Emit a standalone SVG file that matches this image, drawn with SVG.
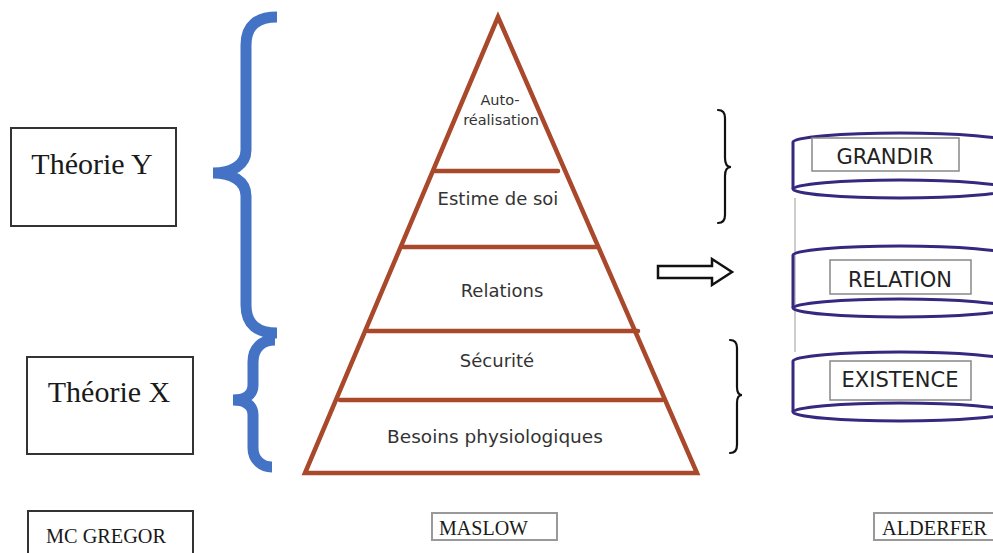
<svg xmlns="http://www.w3.org/2000/svg" width="993" height="553" viewBox="0 0 993 553">
  <style>
    .theory { fill: #fff; stroke: #333; stroke-width: 2; }
    .serif { font-family: "Liberation Serif", "Times New Roman", serif; fill: #1a1a1a; }
    .tag { fill: #fff; stroke: #999; stroke-width: 2; }
    .level { stroke: #A9482A; stroke-width: 4.5; fill: none; stroke-linecap: round; }
    .ptext { font-family: "DejaVu Sans", Verdana, sans-serif; fill: #333; text-anchor: middle; }
    .cyl { fill: none; stroke: #35287F; stroke-width: 3; }
    .clabel { fill: #fff; stroke: #888; stroke-width: 1.5; }
    .ctext { font-family: "DejaVu Sans", Verdana, sans-serif; font-size: 21px; fill: #222; text-anchor: middle; }
    .bluebrace { fill: none; stroke: #4472C4; stroke-width: 11; }
    .blackbrace { fill: none; stroke: #111; stroke-width: 2.2; stroke-linecap: round; }
  </style>

  <rect width="993" height="553" fill="#fff"/>

  <!-- McGregor theories -->
  <g id="theorie-y">
    <rect class="theory" x="11" y="128" width="165" height="98"/>
    <text class="serif" x="92" y="174" font-size="30" text-anchor="middle">Théorie Y</text>
  </g>
  <g id="theorie-x">
    <rect class="theory" x="27" y="357" width="166" height="97"/>
    <text class="serif" x="109" y="402" font-size="30" text-anchor="middle">Théorie X</text>
  </g>
  <g id="mc-gregor">
    <rect class="theory" x="28" y="511" width="165" height="50"/>
    <text class="serif" x="46" y="543" font-size="22" textLength="120" lengthAdjust="spacingAndGlyphs">MC GREGOR</text>
  </g>

  <!-- Braces grouping the pyramid levels -->
  <g id="braces">
    <path class="bluebrace" d="M277,17 C258,17 246,25 246,45 L246,150 C246,165 232,173 213,173 C232,173 246,181 246,196 L246,305 C246,325 258,333 277,333"/>
    <path class="bluebrace" d="M275,340 C262,340 253,348 253,362 L253,385 C253,395 245,400 233,400 C245,400 253,405 253,415 L253,448 C253,460 262,467 272,467"/>
    <path class="blackbrace" d="M718,110 C723,110 725,113 725,118 L725,158 C725,164 727,167 731,167 C727,167 725,170 725,176 L725,215 C725,220 723,223 718,223"/>
    <path class="blackbrace" d="M730,340 C735,340 737,343 737,348 L737,387 C737,392 739,395 742,395 C739,395 737,398 737,403 L737,445 C737,450 735,453 730,453"/>
  </g>

  <!-- Maslow pyramid -->
  <g id="pyramide">
    <polygon class="level" stroke-linejoin="miter" points="498,17 305,473 697,473"/>
    <line class="level" x1="435" y1="171" x2="558" y2="171"/>
    <line class="level" x1="403" y1="247" x2="597" y2="247"/>
    <line class="level" x1="368" y1="331" x2="638" y2="331"/>
    <line class="level" x1="340" y1="400" x2="662" y2="400"/>
    <text class="ptext" x="500" y="105" font-size="14.5">Auto-</text>
    <text class="ptext" x="501" y="125" font-size="14.5">réalisation</text>
    <text class="ptext" x="498" y="205" font-size="18">Estime de soi</text>
    <text class="ptext" x="502" y="297" font-size="18">Relations</text>
    <text class="ptext" x="497" y="367" font-size="18">Sécurité</text>
    <text class="ptext" x="495" y="443" font-size="18.5">Besoins physiologiques</text>
  </g>
  <g id="maslow">
    <rect class="tag" x="432" y="513" width="125" height="27"/>
    <text class="serif" x="439" y="535" font-size="20" textLength="89" lengthAdjust="spacingAndGlyphs">MASLOW</text>
  </g>

  <!-- Connectors -->
  <g id="connectors">
    <polygon points="658,266 712,266 712,259 732,272 712,285 712,278 658,278" fill="#fff" stroke="#111" stroke-width="2.5" stroke-linejoin="miter"/>
    <line x1="795" y1="198" x2="795" y2="352" stroke="#999" stroke-width="1"/>
  </g>

  <!-- Alderfer ERG cylinders -->
  <g id="grandir">
    <path class="cyl" d="M793,189 L793,142 A107,9 0 0 1 1007,142"/>
    <ellipse class="cyl" cx="900" cy="189" rx="107" ry="9"/>
    <rect class="clabel" x="812" y="138" width="147" height="33"/>
    <text class="ctext" x="885" y="164">GRANDIR</text>
  </g>
  <g id="relation">
    <path class="cyl" d="M793,308 L793,255 A107,9 0 0 1 1007,255"/>
    <ellipse class="cyl" cx="900" cy="308" rx="107" ry="9"/>
    <rect class="clabel" x="830" y="260" width="141" height="34"/>
    <text class="ctext" x="900" y="287">RELATION</text>
  </g>
  <g id="existence">
    <path class="cyl" d="M793,412 L793,361 A107,9 0 0 1 1007,361"/>
    <ellipse class="cyl" cx="900" cy="412" rx="107" ry="9"/>
    <rect class="clabel" x="830" y="361" width="141" height="39"/>
    <text class="ctext" x="900" y="387">EXISTENCE</text>
  </g>
  <g id="alderfer">
    <rect class="tag" x="874" y="513" width="125" height="27"/>
    <text class="serif" x="882" y="535" font-size="20" textLength="105" lengthAdjust="spacingAndGlyphs">ALDERFER</text>
  </g>
</svg>
